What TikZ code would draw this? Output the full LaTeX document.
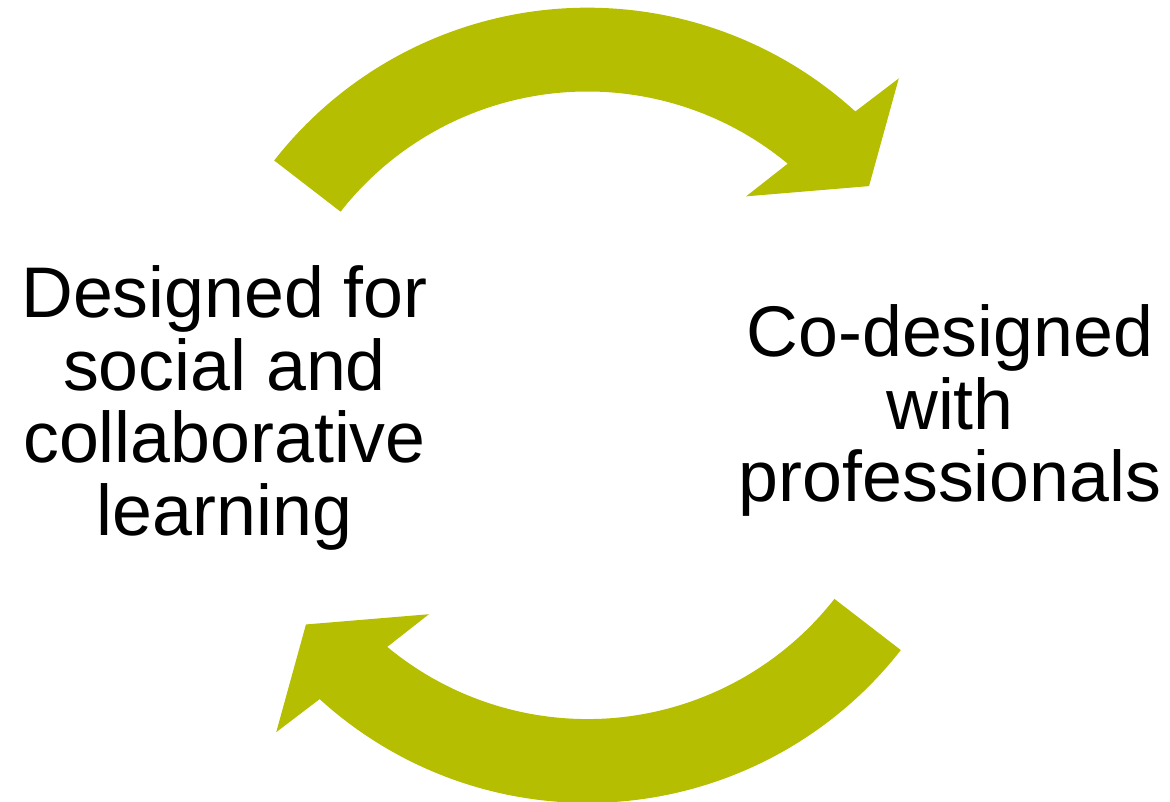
\documentclass[tikz,border=0pt]{standalone}
\usepackage{fontspec}
\setmainfont{Liberation Sans}
\definecolor{cycleolive}{HTML}{B5BE00}
\begin{document}
\begin{tikzpicture}[x=1pt,y=1pt,
  cyclearrow/.style={fill=cycleolive,draw=none},
  cyclelabel/.style={align=center,inner sep=0pt,
    font=\fontsize{71.7}{72.8}\selectfont}]
\useasboundingbox (0,0) rectangle (1170,802);
% centre of the circular arrows
\coordinate (hub) at (587.5,396.7);
% upper arrow, running clockwise from left to right
\begin{scope}[shift={(hub)}]
  \fill[cyclearrow] (142.0:397.6)
    arc[start angle=142.0,end angle=47.65,radius=397.6]
    -- (46.4:451.4) -- (37.9:356.8) -- (52.8:262.3) -- (50.35:313.8)
    arc[start angle=50.35,end angle=141.9,radius=313.8] -- cycle;
\end{scope}
% lower arrow, the same shape turned half a turn
\begin{scope}[shift={(hub)},rotate=180]
  \fill[cyclearrow] (142.0:397.6)
    arc[start angle=142.0,end angle=47.65,radius=397.6]
    -- (46.4:451.4) -- (37.9:356.8) -- (52.8:262.3) -- (50.35:313.8)
    arc[start angle=50.35,end angle=141.9,radius=313.8] -- cycle;
\end{scope}
\node[cyclelabel] (social) at (224.5,394) {Designed for\\social and\\collaborative\\learning};
\node[cyclelabel] (codesign) at (950,391.5) {Co-designed\\with\\professionals};
\end{tikzpicture}
\end{document}
